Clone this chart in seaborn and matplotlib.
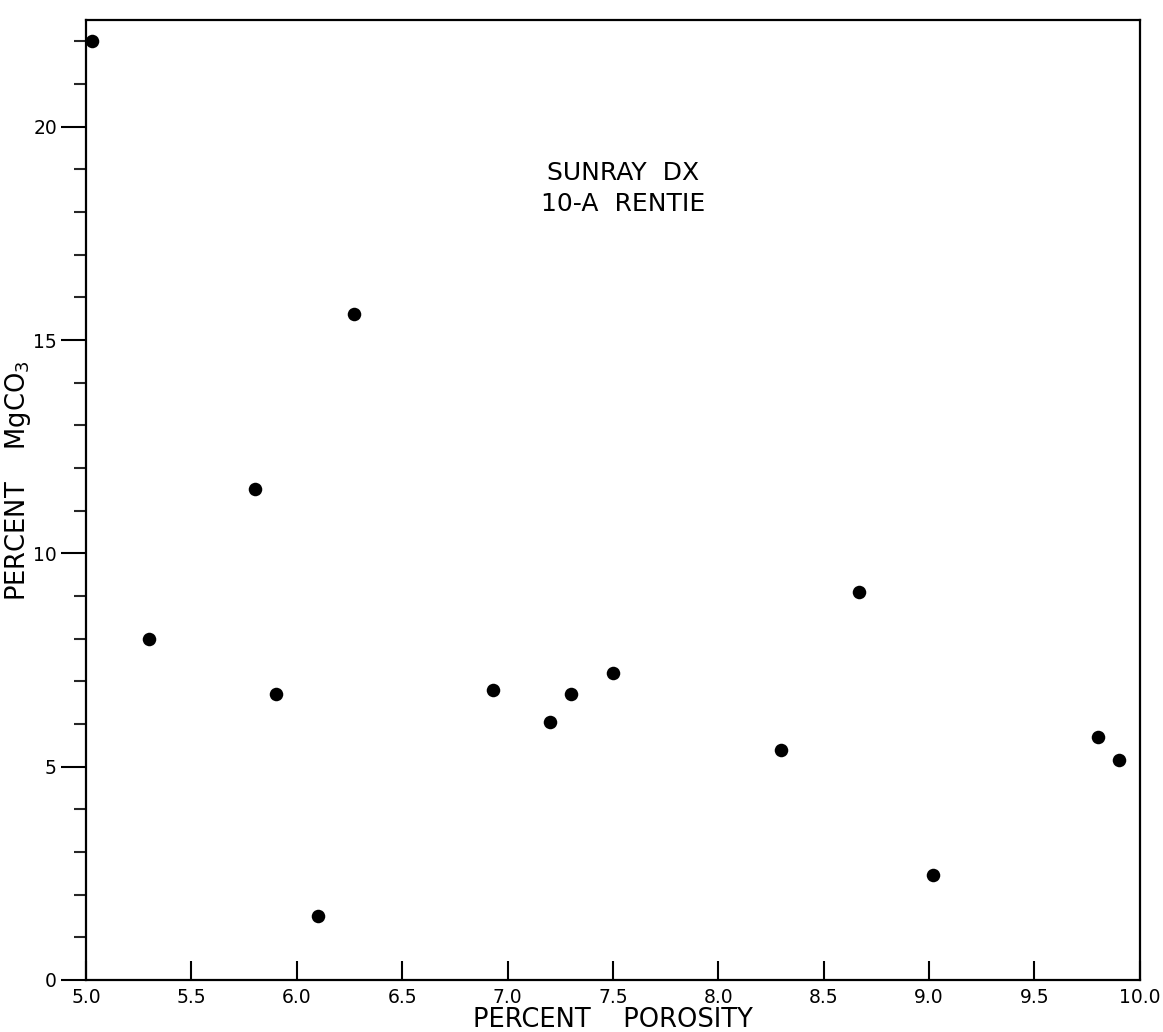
import numpy as np
import pandas as pd
import seaborn as sns
import matplotlib.pyplot as plt
from matplotlib.ticker import MultipleLocator

# data
porosity = [5.03, 5.3, 5.8, 5.9, 6.1, 6.27, 6.93, 7.2, 7.3, 7.5, 8.3, 8.67, 9.02, 9.8, 9.9]
mgco3 = [22.0, 8.0, 11.5, 6.7, 1.5, 15.6, 6.8, 6.05, 6.7, 7.2, 5.4, 9.1, 2.45, 5.7, 5.15]
x_ticks = [5.0, 5.5, 6.0, 6.5, 7.0, 7.5, 8.0, 8.5, 9.0, 9.5, 10.0]
x_labels = ["5.0", "5.5", "6.0", "6.5", "7.0", "7.5", "8.0", "8.5", "9.0", "9.5", "10.0"]
y_ticks = [0, 5, 10, 15, 20]

df = pd.DataFrame({"porosity": porosity, "mgco3": mgco3})

sns.set_style("ticks")
plt.rcParams["font.family"] = ["DejaVu Sans"]
plt.rcParams["mathtext.default"] = "regular"
plt.rcParams["text.color"] = "black"
plt.rcParams["axes.labelcolor"] = "black"

fig = plt.figure(figsize=(11.63, 10.32), dpi=100)
ax = fig.add_axes([0.074, 0.0504, 0.906, 0.9302])

sns.scatterplot(data=df, x="porosity", y="mgco3", color="black", s=95,
                edgecolor="black", linewidth=0, ax=ax, legend=False)

ax.set_xlim(5.0, 10.0)
ax.set_ylim(0, 22.5)

ax.set_xticks(x_ticks)
ax.set_xticklabels(x_labels)
ax.set_yticks(y_ticks)
ax.yaxis.set_minor_locator(MultipleLocator(1))

ax.tick_params(axis="x", direction="in", length=14, width=1.5, pad=6,
               labelsize=13.5, colors="black")
ax.tick_params(axis="y", which="major", direction="out", length=18, width=1.5,
               pad=3, labelsize=13.5, colors="black")
ax.tick_params(axis="y", which="minor", direction="out", length=9, width=1.5)

for side in ["top", "right", "bottom", "left"]:
    ax.spines[side].set_visible(True)
    ax.spines[side].set_linewidth(1.6)
    ax.spines[side].set_color("black")

ax.set_xlabel("PERCENT    POROSITY", fontsize=18.5, labelpad=0)
ax.set_ylabel("PERCENT    MgCO$_3$", fontsize=18.5)
ax.yaxis.set_label_coords(-0.05, 0.52)

ax.text(7.55, 18.55, "SUNRAY  DX\n10-A  RENTIE", ha="center", va="center",
        fontsize=18, linespacing=1.35)

fig.savefig("out.png", dpi=100)
